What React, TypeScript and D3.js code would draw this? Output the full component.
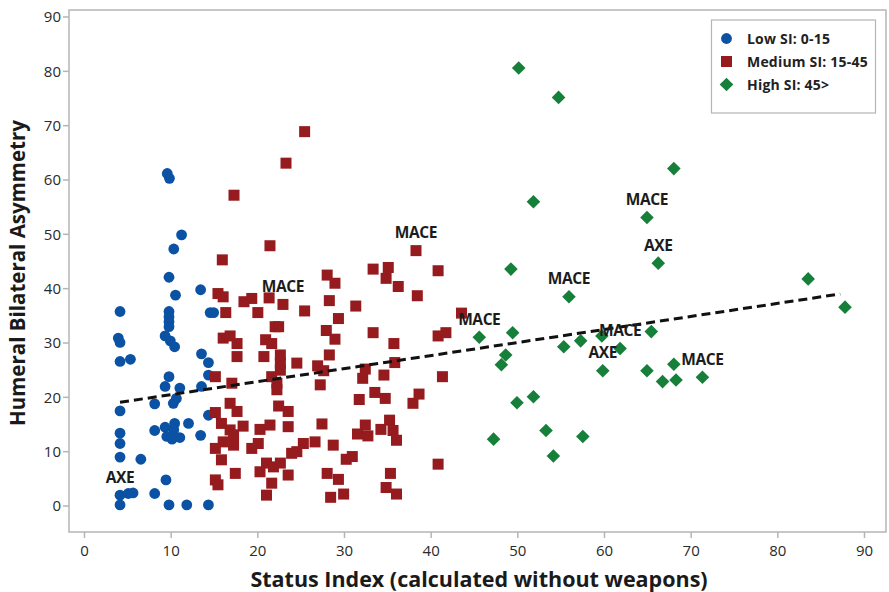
import React from "react";
import * as d3 from "d3";

const lowSI: [number, number][] = [
  [9.55, 61.2], [9.8, 60.3], [11.2, 49.9], [10.3, 47.3], [9.75, 42.1], [10.5, 38.8], [13.4, 39.8],
  [4.1, 35.8], [9.75, 35.8], [9.75, 34.8], [9.75, 33.9], [9.75, 33.0], [14.5, 35.6], [14.9, 35.6],
  [3.9, 30.9], [4.1, 30.1], [9.3, 31.3], [9.9, 30.4], [10.4, 29.3], [4.1, 26.6], [5.3, 27.0],
  [13.5, 28.0], [14.3, 26.4], [14.3, 24.1], [9.75, 23.8], [9.3, 22.0], [11.0, 21.7], [13.5, 22.0],
  [8.1, 18.8], [10.25, 18.9], [10.6, 19.8], [4.1, 17.5], [14.3, 16.7], [8.1, 13.9], [9.3, 14.5],
  [10.4, 15.2], [10.3, 14.0], [9.5, 12.8], [10.1, 12.3], [11.0, 12.6], [12.0, 15.2], [13.4, 13.0],
  [4.1, 13.4], [4.1, 11.5], [4.1, 9.0], [6.5, 8.6], [9.4, 4.8], [4.1, 2.0], [5.05, 2.3], [5.6, 2.4],
  [8.1, 2.3], [4.1, 0.2], [9.75, 0.2], [11.8, 0.2], [14.3, 0.2],
];

const mediumSI: [number, number][] = [
  [25.4, 68.9], [23.25, 63.1], [17.25, 57.2], [21.4, 47.9], [15.9, 45.3], [15.4, 39.1], [16.0, 38.5],
  [18.4, 37.6], [19.3, 38.2], [21.3, 38.3], [22.9, 37.1], [25.4, 35.9], [16.3, 35.6], [20.0, 35.6],
  [22.0, 33.0], [22.4, 33.0], [16.0, 30.9], [16.8, 31.3], [17.6, 29.9], [20.9, 30.6], [21.6, 29.9],
  [17.6, 27.5], [20.7, 27.5], [22.6, 27.8], [22.6, 26.3], [22.6, 25.0], [24.5, 26.3], [26.9, 25.8],
  [15.1, 23.8], [17.0, 22.6], [21.6, 23.8], [22.2, 22.6], [22.2, 21.4], [27.2, 22.3], [16.8, 18.9],
  [17.6, 17.4], [15.1, 17.2], [22.4, 18.4], [23.5, 17.4], [15.8, 15.2], [16.8, 14.0], [17.2, 13.1],
  [18.3, 14.7], [20.25, 14.1], [21.4, 14.9], [23.5, 14.6], [27.4, 15.1], [15.1, 10.6], [16.0, 11.8],
  [17.2, 11.2], [19.3, 10.6], [20.05, 11.5], [25.25, 11.5], [26.6, 11.8], [23.9, 9.7], [24.5, 10.0],
  [15.8, 8.5], [17.4, 6.0], [20.25, 6.3], [21.0, 7.9], [21.8, 7.2], [22.6, 7.9], [23.5, 5.7],
  [15.1, 4.8], [15.4, 3.9], [21.6, 4.2], [21.0, 2.0],
  [38.25, 47.0], [33.3, 43.6], [35.05, 43.9], [34.8, 41.9], [36.2, 40.4], [40.8, 43.3], [38.4, 38.7],
  [28.0, 42.5], [28.9, 41.0], [28.25, 37.8], [31.3, 36.8], [29.3, 34.5], [27.9, 32.3], [28.9, 30.7],
  [33.3, 31.9], [35.7, 29.9], [40.8, 31.3], [41.7, 31.9], [43.5, 35.5], [28.25, 27.8], [27.6, 24.9],
  [32.4, 25.2], [32.1, 23.5], [34.55, 24.1], [35.8, 26.4], [41.3, 23.8], [31.7, 19.6], [33.5, 20.9],
  [34.7, 19.8], [38.6, 20.6], [37.9, 18.9], [32.4, 14.9], [31.5, 13.25], [32.7, 12.9], [34.2, 14.1],
  [35.2, 15.8], [35.6, 13.9], [36.0, 12.1], [28.7, 11.2], [30.2, 8.6], [30.9, 9.1], [40.8, 7.7],
  [28.0, 6.0], [29.3, 4.9], [35.3, 6.0], [34.8, 3.4], [36.0, 2.2], [28.4, 1.6], [29.9, 2.2],
];

const highSI: [number, number][] = [
  [50.1, 80.6], [54.7, 75.2], [68.0, 62.1], [51.8, 56.0], [64.9, 53.1], [66.2, 44.7], [49.2, 43.6],
  [83.5, 41.8], [55.9, 38.5], [87.75, 36.6], [45.55, 31.05], [49.4, 31.9], [48.6, 27.8], [48.1, 26.0],
  [55.3, 29.3], [57.25, 30.4], [59.7, 31.3], [61.8, 29.0], [65.4, 32.1], [59.8, 24.9], [64.9, 24.9],
  [68.0, 26.1], [66.7, 22.9], [68.25, 23.2], [71.3, 23.7], [49.9, 19.0], [51.8, 20.1], [47.2, 12.3],
  [53.25, 13.9], [57.5, 12.8], [54.1, 9.2],
];

const weaponLabels: { x: number; y: number; text: string }[] = [
  { x: 4.1, y: 2.0, text: "AXE" },
  { x: 22.9, y: 37.1, text: "MACE" },
  { x: 38.25, y: 47.0, text: "MACE" },
  { x: 45.55, y: 31.05, text: "MACE" },
  { x: 55.9, y: 38.5, text: "MACE" },
  { x: 64.9, y: 53.1, text: "MACE" },
  { x: 66.2, y: 44.7, text: "AXE" },
  { x: 61.8, y: 29.0, text: "MACE" },
  { x: 59.8, y: 24.9, text: "AXE" },
  { x: 71.3, y: 23.7, text: "MACE" },
];

const trendX = [4.1, 87.2];
const trendIntercept = 18.1;
const trendSlope = 0.24;

const xTicks = [0, 10, 20, 30, 40, 50, 60, 70, 80, 90];
const yTicks = [0, 10, 20, 30, 40, 50, 60, 70, 80, 90];

const legendItems = [
  { label: "Low SI: 0-15", shape: "circle" },
  { label: "Medium SI: 15-45", shape: "square" },
  { label: "High SI: 45>", shape: "diamond" },
];

const BLUE = "#0b52a4";
const RED = "#951b1e";
const GREEN = "#16803a";
const FONT = "'Open Sans', 'Noto Sans', sans-serif";

function Marker({ shape, cx, cy }: { shape: string; cx: number; cy: number }) {
  if (shape === "circle") return <circle cx={cx} cy={cy} r={5.4} fill={BLUE} />;
  if (shape === "square") return <rect x={cx - 5.5} y={cy - 5.5} width={11} height={11} fill={RED} />;
  const h = 6.8;
  return <path d={`M${cx},${cy - h}L${cx + h},${cy}L${cx},${cy + h}L${cx - h},${cy}Z`} fill={GREEN} />;
}

export default function App() {
  const W = 889, H = 592;
  const frame = { left: 69, top: 10, right: 886, bottom: 532 };
  const x = d3.scaleLinear().domain([0, 90]).range([84.5, 864.5]);
  const y = d3.scaleLinear().domain([0, 90]).range([506, 17]);
  const line = d3.line<number>().x((v) => x(v)).y((v) => y(trendIntercept + trendSlope * v));

  return (
    <svg width={W} height={H} style={{ position: "absolute", left: 0, top: 0, background: "#fff" }} fontFamily={FONT}>
      <rect x={0} y={0} width={W} height={H} fill="#fff" />
      <rect x={frame.left} y={frame.top} width={frame.right - frame.left} height={frame.bottom - frame.top}
        fill="none" stroke="#b5b5b5" strokeWidth={1.5} />
      {xTicks.map((t) => (
        <g key={"xt" + t}>
          <line x1={x(t)} x2={x(t)} y1={frame.bottom} y2={frame.bottom + 6} stroke="#b5b5b5" strokeWidth={1.5} />
          <text x={x(t)} y={556} textAnchor="middle" fontSize={15} fill="#2a2a2a">{t}</text>
        </g>
      ))}
      {yTicks.map((t) => (
        <g key={"yt" + t}>
          <line x1={frame.left - 6} x2={frame.left} y1={y(t)} y2={y(t)} stroke="#b5b5b5" strokeWidth={1.5} />
          <text x={61} y={y(t) + 5.2} textAnchor="end" fontSize={15} fill="#2a2a2a">{t}</text>
        </g>
      ))}
      <text x={479} y={587} textAnchor="middle" fontSize={21.5} fontWeight={700} fill="#1a1a1a">
        Status Index (calculated without weapons)
      </text>
      <text transform={`translate(25,273) rotate(-90)`} textAnchor="middle" fontSize={20.5} fontWeight={700} fill="#1a1a1a">
        Humeral Bilateral Asymmetry
      </text>
      {lowSI.map((d, i) => <Marker key={"l" + i} shape="circle" cx={x(d[0])} cy={y(d[1])} />)}
      {mediumSI.map((d, i) => <Marker key={"m" + i} shape="square" cx={x(d[0])} cy={y(d[1])} />)}
      {highSI.map((d, i) => <Marker key={"h" + i} shape="diamond" cx={x(d[0])} cy={y(d[1])} />)}
      <path d={line(trendX) || ""} fill="none" stroke="#111" strokeWidth={3} strokeDasharray="9,5" />
      {weaponLabels.map((l, i) => (
        <text key={"lab" + i} x={x(l.x)} y={y(l.y) - 12.5} textAnchor="middle" fontSize={15.5} fontWeight={700}
          fill="#1c1c1c" letterSpacing={-0.4}>{l.text}</text>
      ))}
      <rect x={711.5} y={20} width={164} height={93} fill="#fff" stroke="#b5b5b5" strokeWidth={1.2} />
      {legendItems.map((it, i) => (
        <g key={"lg" + i}>
          <Marker shape={it.shape} cx={726.5} cy={38.5 + i * 23} />
          <text x={747} y={38.5 + i * 23 + 5} fontSize={14} fontWeight={700} fill="#222" letterSpacing={0.2}>{it.label}</text>
        </g>
      ))}
    </svg>
  );
}
